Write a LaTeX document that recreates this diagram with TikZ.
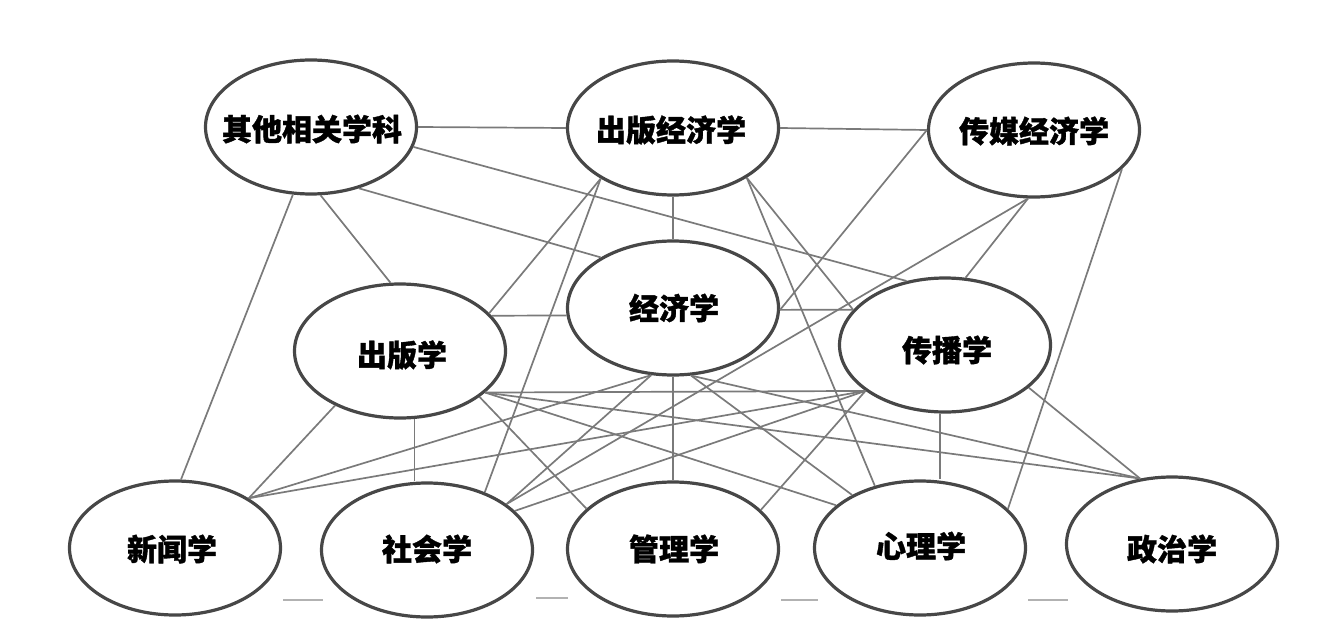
\documentclass[tikz,border=0pt]{standalone}
\usepackage{fontspec}
\newfontfamily\cjk{Noto Sans CJK SC}[BoldFeatures={FakeBold=1.2}]
\usetikzlibrary{shapes.geometric}
\begin{document}
\begin{tikzpicture}[x=1pt,y=-1pt,
  disc/.style={ellipse, draw=black!72, line width=3.2pt, minimum width=211pt, minimum height=134pt, inner sep=0pt},
  lbl/.style={inner sep=0pt, font=\cjk\bfseries\fontsize{30}{36}\selectfont},
  link/.style={draw=black!52, line width=1.7pt},
  tickline/.style={draw=black!30, line width=1.6pt}]
\useasboundingbox (0,0) rectangle (1329,639);
\node[disc] (qt)  at (311,127) {};
\node[disc] (cbj) at (673,128) {};
\node[disc] (cmj) at (1034,130) {};
\node[disc] (jj)  at (673,308) {};
\node[disc] (cb)  at (400,351) {};
\node[disc] (cbo) at (945,345) {};
\node[disc] (xw)  at (175,548) {};
\node[disc] (sh)  at (427,550) {};
\node[disc] (gl)  at (673,549) {};
\node[disc] (xl)  at (920,548) {};
\node[disc] (zz)  at (1172,544) {};
\node[lbl] (qt-t)  at (312,129) {其他相关学科};
\node[lbl] (cbj-t) at (671,130) {出版经济学};
\node[lbl] (cmj-t) at (1034,131) {传媒经济学};
\node[lbl] (jj-t)  at (674,308) {经济学};
\node[lbl] (cb-t)  at (402,355) {出版学};
\node[lbl] (cbo-t) at (947,350) {传播学};
\node[lbl] (xw-t)  at (172,549) {新闻学};
\node[lbl] (sh-t)  at (427,549) {社会学};
\node[lbl] (gl-t)  at (674,549) {管理学};
\node[lbl] (xl-t)  at (921,546) {心理学};
\node[lbl] (zz-t)  at (1172,549) {政治学};
\begin{scope}[link]
\draw (qt.east) -- (cbj.west);
\draw (cbj.east) -- (cmj.west);
\draw (qt.-11) -- (cbo.121);
\draw (qt.-52) -- (jj.145);
\draw (qt.-105) -- (xw.85);
\draw (qt.-82) -- (cb.98);
\draw (cbj.south) -- (jj.north);
\draw (cbj.215) -- (cb.23);
\draw (cbj.215) -- (sh.45);
\draw (cbj.-34) -- (cbo.159);
\draw (cbj.-34) -- (xl.126);
\draw (cmj.west) -- (jj.-1);
\draw (jj.-1) -- (cbo.159);
\draw (cmj.-95) -- (cbo.73);
\draw (cmj.-95) -- (sh.30);
\draw (cmj.-24) -- (xl.24);
\draw (cb.21) -- (jj.184);
\draw (cb.-140) -- (xw.34);
\draw (cb.-78) -- (cb.-78 |- sh.north);
\draw (cb.-26) -- (cbo.210);
\draw (cb.-26) -- (zz.116);
\draw (cb.-26) -- (xl.153);
\draw (cb.-30) -- (gl.155);
\draw (jj.-108) -- (xw.34);
\draw (jj.-108) -- (sh.30);
\draw (jj.south) -- (gl.north);
\draw (jj.-75) -- (xl.142);
\draw (jj.-75) -- (zz.116);
\draw (cbo.210) -- (xw.34);
\draw (cbo.210) -- (sh.24);
\draw (cbo.210) -- (gl.24);
\draw (cbo.-94) -- (cbo.-94 |- xl.north);
\draw (cbo.-27) -- (zz.116);
\end{scope}
\draw[tickline] (283,600) -- (323,600);
\draw[tickline] (536,598) -- (568,598);
\draw[tickline] (781,600) -- (818,600);
\draw[tickline] (1028,600) -- (1068,600);
\end{tikzpicture}
\end{document}
